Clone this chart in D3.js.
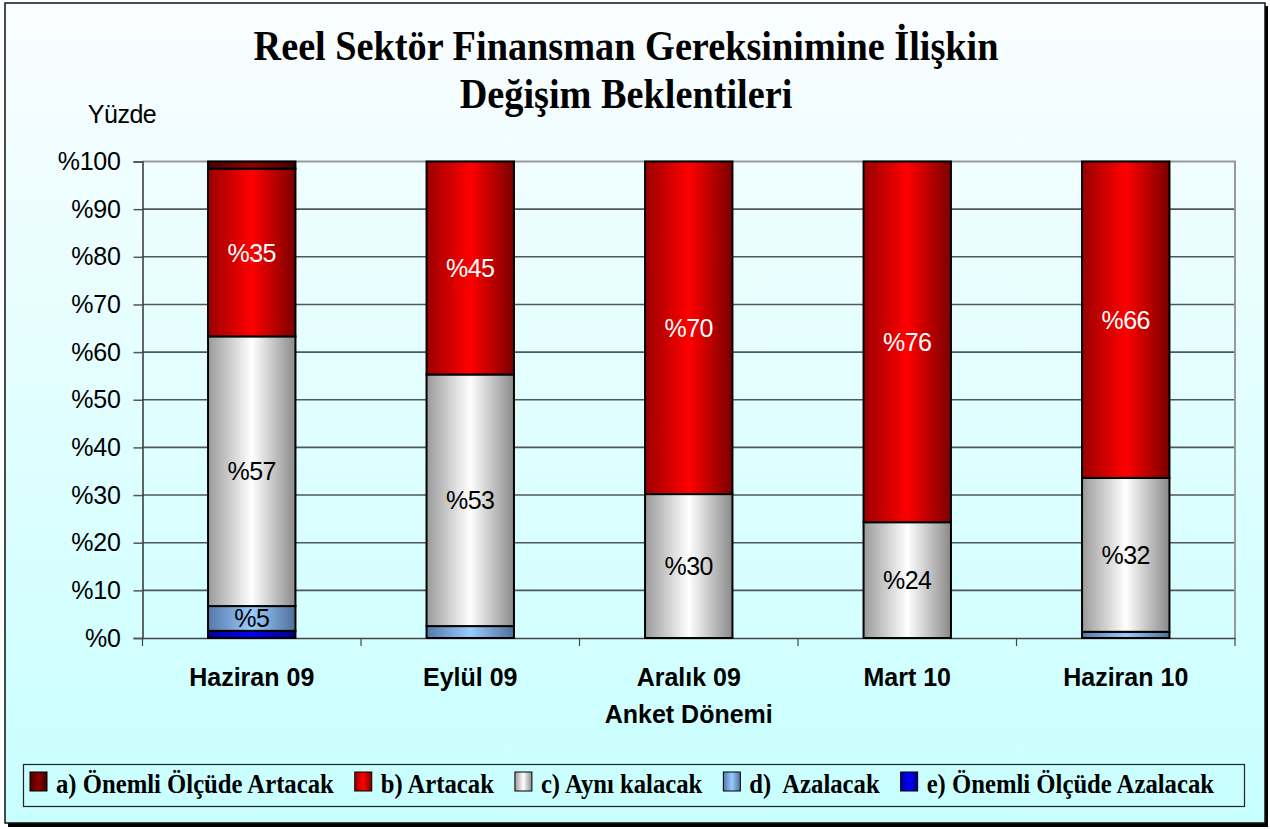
<!DOCTYPE html>
<html>
<head>
<meta charset="utf-8">
<script src="https://cdn.jsdelivr.net/npm/d3@7"></script>
<style>
  body { margin: 0; background: #ffffff; }
  svg { display: block; }
</style>
</head>
<body>
<svg id="chart" width="1270" height="829"></svg>
<script>

// data
var categories = ["Haziran 09", "Eylül 09", "Aralık 09", "Mart 10", "Haziran 10"];
var seriesNames = ["a) Önemli Ölçüde Artacak", "b) Artacak", "c) Aynı kalacak", "d)  Azalacak", "e) Önemli Ölçüde Azalacak"];
var onemliArtacak = [1.5, 0, 0, 0, 0];
var artacak = [35.2, 44.7, 69.8, 75.7, 66.4];
var ayniKalacak = [56.6, 52.8, 30.2, 24.3, 32.3];
var azalacak = [5.2, 2.5, 0, 0, 1.3];
var onemliAzalacak = [1.5, 0, 0, 0, 0];
var yTicks = [0, 10, 20, 30, 40, 50, 60, 70, 80, 90, 100];

var titleLines = ["Reel Sektör Finansman Gereksinimine İlişkin", "Değişim Beklentileri"];
var yLabel = "Yüzde";
var xLabel = "Anket Dönemi";

var keys = ["a", "b", "c", "d", "e"];
var seriesValues = { a: onemliArtacak, b: artacak, c: ayniKalacak, d: azalacak, e: onemliAzalacak };

// gradient colours: edge, centre, edge
var gradColors = {
    a: ["#4a0000", "#8c0000", "#400000"],
    b: ["#9a0000", "#ff0000", "#7a0000"],
    c: ["#9a9a9a", "#ffffff", "#8a8a8a"],
    d: ["#5577a8", "#99ccff", "#4f6f9a"],
    e: ["#00009a", "#0000ff", "#000088"]
};
var labelColor = { a: "#fff", b: "#fff", c: "#000", d: "#000", e: "#fff" };

var rows = categories.map(function(c, i){
    var r = { cat: c };
    keys.forEach(function(k){ r[k] = seriesValues[k][i]; });
    return r;
});

var svg = d3.select("#chart");
var defs = svg.append("defs");

var bg = defs.append("linearGradient")
    .attr("id", "bg")
    .attr("x1", 0).attr("y1", 0).attr("x2", 0).attr("y2", 1);
bg.append("stop").attr("offset", "0%").attr("stop-color", "#fafdff");
bg.append("stop").attr("offset", "100%").attr("stop-color", "#c8ffff");

keys.forEach(function(k){
    var g = defs.append("linearGradient")
        .attr("id", "g_" + k)
        .attr("x1", 0).attr("y1", 0).attr("x2", 1).attr("y2", 0);
    g.append("stop").attr("offset", "0%").attr("stop-color", gradColors[k][0]);
    g.append("stop").attr("offset", "50%").attr("stop-color", gradColors[k][1]);
    g.append("stop").attr("offset", "100%").attr("stop-color", gradColors[k][2]);
});

// frame with shadow
svg.append("rect")
    .attr("x", 8).attr("y", 6)
    .attr("width", 1260).attr("height", 821)
    .attr("fill", "#000");
svg.append("rect")
    .attr("x", 5).attr("y", 3)
    .attr("width", 1260).attr("height", 820)
    .attr("fill", "url(#bg)")
    .attr("stroke", "#111")
    .attr("stroke-width", 1.5);

var margin = { top: 161.5, left: 142.5, right: 1235, bottom: 638 };

var x = d3.scaleBand()
    .domain(categories)
    .range([margin.left, margin.right])
    .paddingInner(0.6)
    .paddingOuter(0.3);

var xOuter = d3.scaleBand()
    .domain(categories)
    .range([margin.left, margin.right]);

var y = d3.scaleLinear()
    .domain([0, 100])
    .range([margin.bottom, margin.top]);

// gridlines
svg.append("g")
    .selectAll("line")
    .data(yTicks.filter(function(d){ return d > 0 && d < 100; }))
    .enter().append("line")
    .attr("x1", margin.left).attr("x2", margin.right)
    .attr("y1", function(d){ return y(d); })
    .attr("y2", function(d){ return y(d); })
    .attr("stroke", "#4f5757")
    .attr("stroke-width", 1.6);

// plot area border (top + right)
svg.append("path")
    .attr("d", "M" + margin.left + "," + y(100) + "H" + margin.right + "V" + y(0))
    .attr("fill", "none")
    .attr("stroke", "#999")
    .attr("stroke-width", 2);

// y axis
var yAxis = d3.axisLeft(y)
    .tickValues(yTicks)
    .tickSize(9)
    .tickPadding(13)
    .tickFormat(function(d){ return "%" + d; });

var yg = svg.append("g")
    .attr("transform", "translate(" + margin.left + ",0)")
    .call(yAxis);
yg.select(".domain").attr("stroke", "#333").attr("stroke-width", 1.5);
yg.selectAll(".tick line").attr("stroke", "#555").attr("stroke-width", 1.5);
yg.selectAll(".tick text")
    .attr("font-family", "Liberation Sans, Arial, sans-serif")
    .attr("font-size", 25)
    .attr("fill", "#000")
    .attr("letter-spacing", -0.3);

// x axis
var xAxis = d3.axisBottom(xOuter).tickSize(0).tickSizeOuter(0).tickPadding(30);
var xg = svg.append("g")
    .attr("transform", "translate(0," + margin.bottom + ")")
    .call(xAxis);
xg.select(".domain").attr("stroke", "#444").attr("stroke-width", 1.6);
xg.selectAll(".tick text")
    .attr("font-family", "Liberation Sans, Arial, sans-serif")
    .attr("font-size", 25)
    .attr("font-weight", "bold")
    .attr("fill", "#000");

// x ticks on the band boundaries
var bounds = categories.map(function(c){ return xOuter(c); }).concat([margin.right]);
svg.append("g")
    .selectAll("line")
    .data(bounds)
    .enter().append("line")
    .attr("x1", function(d){ return d; })
    .attr("x2", function(d){ return d; })
    .attr("y1", margin.bottom)
    .attr("y2", margin.bottom + 8)
    .attr("stroke", "#444")
    .attr("stroke-width", 1.2);

// stacked bars, e at the bottom
var stack = d3.stack().keys(["e", "d", "c", "b", "a"]);
var layers = stack(rows);

var layerG = svg.append("g")
    .selectAll("g")
    .data(layers)
    .enter().append("g")
    .attr("fill", function(d){ return "url(#g_" + d.key + ")"; });

layerG.selectAll("rect")
    .data(function(d){ return d.map(function(p){ p.key = d.key; return p; }); })
    .enter().append("rect")
    .filter(function(d){ return d[1] - d[0] > 0; })
    .attr("x", function(d){ return x(d.data.cat); })
    .attr("width", x.bandwidth())
    .attr("y", function(d){ return y(d[1]); })
    .attr("height", function(d){ return y(d[0]) - y(d[1]); })
    .attr("stroke", "#000")
    .attr("stroke-width", 2);

// segment labels
layerG.selectAll("text")
    .data(function(d){ return d.filter(function(p){ return p[1] - p[0] >= 4; }); })
    .enter().append("text")
    .attr("x", function(d){ return x(d.data.cat) + x.bandwidth() / 2; })
    .attr("y", function(d){ return (y(d[0]) + y(d[1])) / 2; })
    .attr("dy", "0.36em")
    .attr("text-anchor", "middle")
    .attr("font-family", "Liberation Sans, Arial, sans-serif")
    .attr("font-size", 25)
    .attr("letter-spacing", -0.5)
    .attr("fill", function(d){ return labelColor[d.key]; })
    .text(function(d){ return "%" + Math.round(d[1] - d[0]); });

// axis titles
svg.append("text")
    .attr("x", 122).attr("y", 123)
    .attr("text-anchor", "middle")
    .attr("font-family", "Liberation Sans, Arial, sans-serif")
    .attr("font-size", 25)
    .attr("letter-spacing", -0.5)
    .text(yLabel);

svg.append("text")
    .attr("x", (margin.left + margin.right) / 2).attr("y", 723)
    .attr("text-anchor", "middle")
    .attr("font-family", "Liberation Sans, Arial, sans-serif")
    .attr("font-size", 25)
    .attr("font-weight", "bold")
    .text(xLabel);

// title, condensed like the original
var titleG = svg.append("g");
var tl = titleG.selectAll("text")
    .data(titleLines)
    .enter().append("text")
    .attr("x", 626)
    .attr("y", function(d, i){ return 60 + i * 48; })
    .attr("text-anchor", "middle")
    .attr("font-family", "Liberation Serif, Times New Roman, serif")
    .attr("font-size", 42)
    .attr("font-weight", "bold")
    .text(function(d){ return d; });
var tk = 745 / tl.nodes()[0].getComputedTextLength();
tl.each(function(){
    var w = this.getComputedTextLength();
    d3.select(this)
        .attr("textLength", w * tk)
        .attr("lengthAdjust", "spacingAndGlyphs");
});

// legend
svg.append("rect")
    .attr("x", 23.5).attr("y", 764.5)
    .attr("width", 1221).attr("height", 42)
    .attr("fill", "none")
    .attr("stroke", "#222")
    .attr("stroke-width", 1.2);

var legendG = svg.append("g");
var legendItems = legendG.selectAll("g")
    .data(keys)
    .enter().append("g");

var legendText = legendItems.append("text")
    .attr("y", 793)
    .attr("font-family", "Liberation Serif, Times New Roman, serif")
    .attr("font-size", 28)
    .attr("font-weight", "bold")
    .style("white-space", "pre")
    .text(function(d, i){ return seriesNames[i]; });

var natural = legendText.nodes().map(function(n){ return n.getComputedTextLength(); });
var lk = 970 / d3.sum(natural);
var cx = 30;
legendItems.each(function(k, i){
    var g = d3.select(this);
    g.insert("rect", "text")
        .attr("x", cx).attr("y", 772)
        .attr("width", 17).attr("height", 19)
        .attr("fill", "url(#g_" + k + ")")
        .attr("stroke", "#000")
        .attr("stroke-width", 1);
    g.select("text")
        .attr("x", cx + 26)
        .attr("textLength", natural[i] * lk)
        .attr("lengthAdjust", "spacingAndGlyphs");
    cx += 26 + natural[i] * lk + 21;
});

</script>
</body>
</html>
